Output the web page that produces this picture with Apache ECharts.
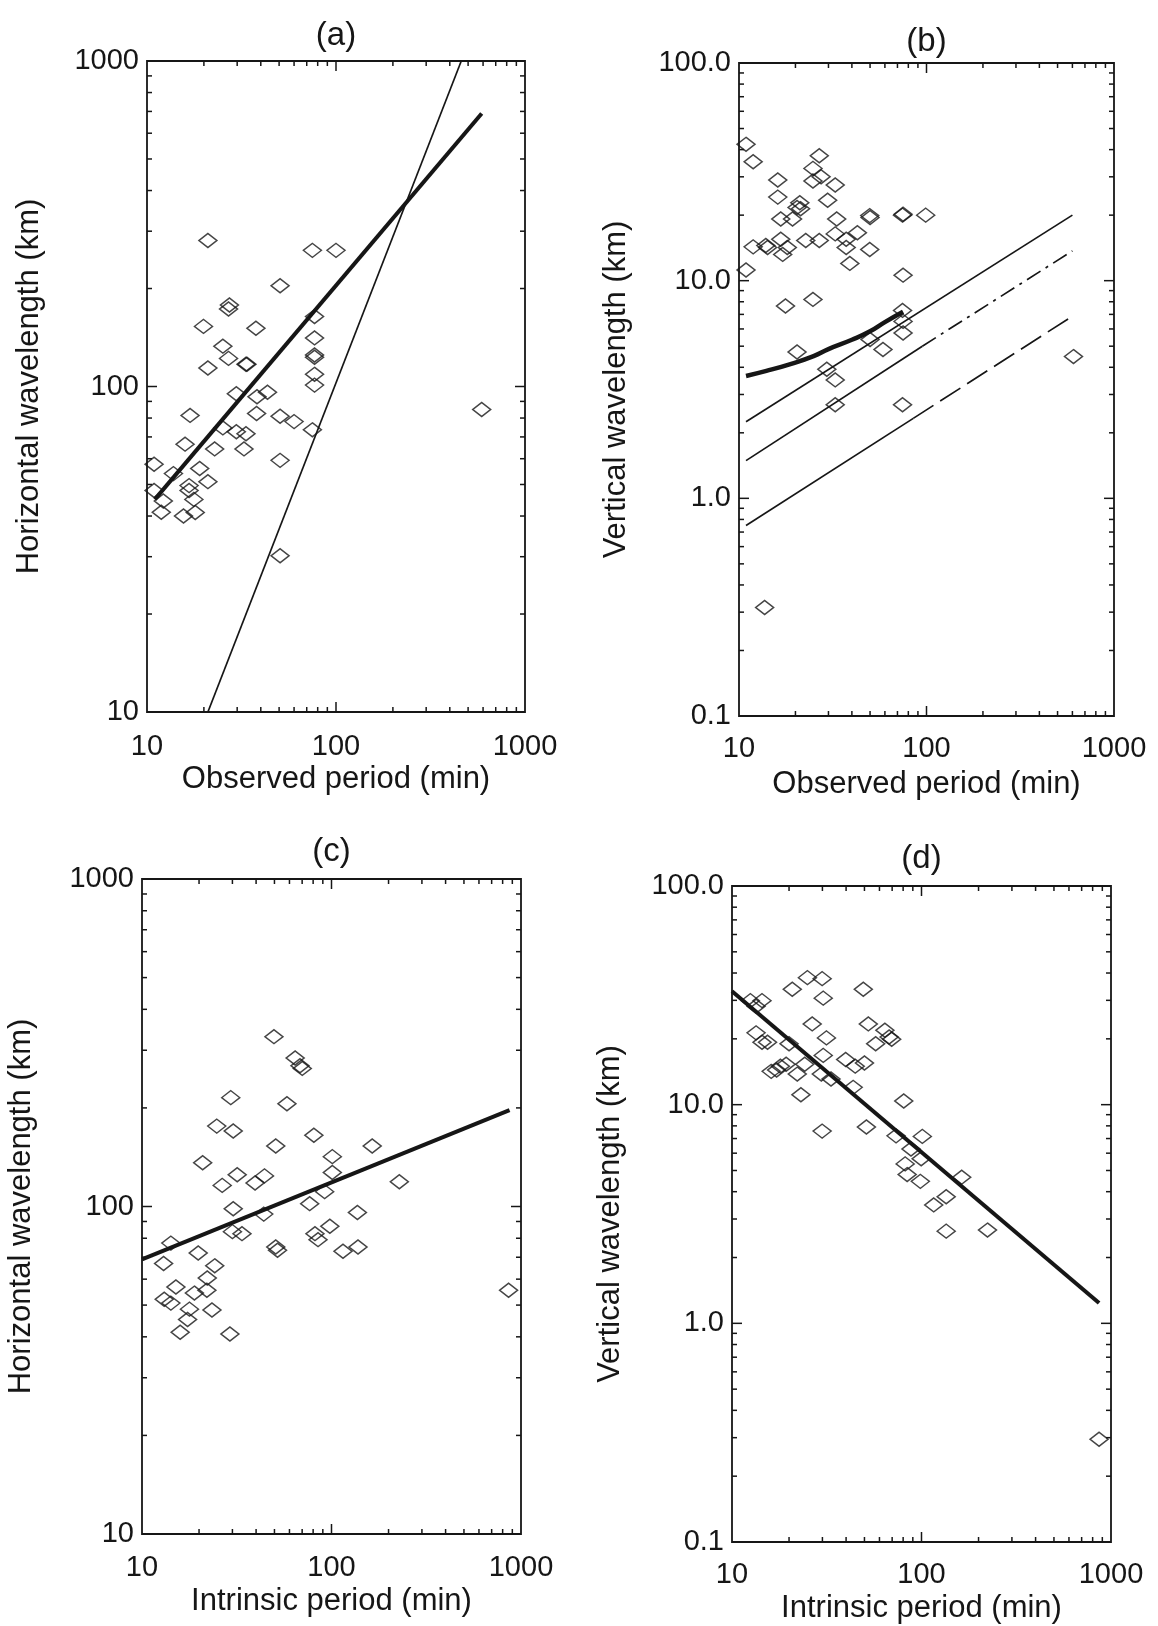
<!DOCTYPE html>
<html><head><meta charset="utf-8">
<script src="https://cdn.jsdelivr.net/npm/echarts@6/dist/echarts.min.js"></script>
<style>html,body{margin:0;padding:0;background:#fff}#c{width:1158px;height:1626px}</style>
</head><body><div id="c"></div><script>
// ---------------- data ----------------
// panel (a): observed period (min) vs horizontal wavelength (km)
const periodA = [21,75,100,50.6,27,27.3,19.9,37.7,77,77,77,77,77,77,25.2,27,21,33.4,33.8,29.7,38.2,43.4,16.9,38,50.6,60,75,25.2,29.7,33.4,32.6,22.8,15.9,13.8,19,50.6,10.9,10.9,16.7,16.7,21,12.2,11.9,17.7,18,15.6,50.6,590];
const horizA  = [281,262,262,204,173,178,153,151,164,141,125,123,109,101,133,122,114,117,117,95,93,96,81.5,82.6,81,78,73.6,74.6,72.6,71.6,64.3,64.3,66.5,54,56,59.3,57.7,47.9,49.6,47.9,51,44.5,41.1,45,41,40,30.2,85];
const fitA_x   = [11, 590];
const fitA_y   = [45, 690];
const steepA_x = [21, 460];
const steepA_y = [10, 1000];

// panel (b): observed period (min) vs vertical wavelength (km)
const periodB = [10.9,11.9,10.9,11.9,13.9,14.2,16.1,16.1,16.7,16.7,17.1,18.1,19.3,20.4,21.1,21.3,22.7,24.8,24.8,26.8,27.4,26.8,29.7,32.6,33.2,32.6,37.3,37.3,39,42.8,49.8,50,49.8,74.5,75,99,75,17.7,24.8,74.5,75,75,50,58.6,20.4,29.4,32.6,32.6,74.5,608,13.7];
const vertB   = [42.3,35.2,11.2,14.3,14.5,14.2,29,24.2,19.2,15.5,13.2,14.2,19.2,21.7,22.8,21.4,15.3,32.8,28.7,37.5,30,15.3,23.4,27.5,19.2,16.4,15.5,14.2,12,16.6,19.9,19.5,13.9,20,20.2,20,10.6,7.65,8.2,7.3,6.5,5.75,5.37,4.83,4.7,3.92,3.5,2.69,2.69,4.48,0.315];
const curveB_x = [10.9,14,19,25,30,40,50,60,75];
const curveB_y = [3.65,3.85,4.15,4.5,4.85,5.35,5.85,6.45,7.2];
const lineB1_x = [10.9, 600];
const lineB1_y = [2.25, 20];
const lineB2s_x = [10.9, 95];   // solid part
const lineB2s_y = [1.49, 5.0];
const lineB2d_x = [95, 600];    // dash-dot part
const lineB2d_y = [5.0, 13.7];
const lineB3s_x = [10.9, 85];   // solid part
const lineB3s_y = [0.75, 2.33];
const lineB3d_x = [85, 600];    // dashed part
const lineB3d_y = [2.33, 6.87];

// panel (c): intrinsic period (min) vs horizontal wavelength (km)
const periodC = [49.7,64.3,68.2,70.1,29.4,58.2,24.8,30.3,80.7,50.8,164,20.9,101,101,31.8,44.3,39.5,26.5,228,92,30.3,43.9,76.7,137,98,30,33.7,81.8,84.9,14.2,50.8,51.9,138,115,19.8,13,24.2,22.1,15.1,22,18.9,13.1,14.2,17.8,23.4,17.4,15.9,29.1,860];
const horizC  = [330,284,269,264,215,206,176,170,165,153,153,136,142,127,125,124,118,116,119,111,98.4,94.8,102,95.9,87,83.8,82.6,82.6,79.2,77.3,75.2,73.5,75.2,73,72.1,67,65.9,60.5,56.8,55.5,54.4,52.1,50.7,48.6,48.3,45.2,41.3,40.8,55.5];
const fitC_x = [10, 870];
const fitC_y = [69, 197];

// panel (d): intrinsic period (min) vs vertical wavelength (km)
const periodD = [25,29.9,20.8,49.3,30.3,12.5,14.4,13.4,52.4,26.5,64.1,13.4,67.5,69.6,31.5,14.4,15.4,20,57.3,30.3,39.8,44.7,50,24.2,18,19.3,16.1,17.2,29.6,22.1,33.3,43.6,23.1,80.6,29.9,51.2,73.4,101,88,99.6,82,84,98.6,163,135,116,135,223,865];
const vertD   = [38.1,37.7,33.7,33.7,30.7,29.9,29.9,28.2,23.4,23.4,21.9,21.3,20.4,19.9,20.2,19.3,19.3,19,19,16.8,16.1,15,15.5,15.3,15,15.3,14.2,14.4,13.8,13.8,13.1,12,11.1,10.4,7.57,7.9,7.2,7.16,6.27,5.66,5.36,4.79,4.46,4.66,3.79,3.48,2.64,2.67,0.295];
const fitD_x = [10, 865];
const fitD_y = [33, 1.24];

// axes / ticks
const titles = ['(a)', '(b)', '(c)', '(d)'];
const xNames = ['Observed period (min)', 'Observed period (min)', 'Intrinsic period (min)', 'Intrinsic period (min)'];
const yNames = ['Horizontal wavelength (km)', 'Vertical wavelength (km)', 'Horizontal wavelength (km)', 'Vertical wavelength (km)'];
const xTickValues = [10, 100, 1000];
const xTickLabels = ['10', '100', '1000'];
const yTickValuesH = [10, 100, 1000];
const yTickLabelsH = ['10', '100', '1000'];
const yTickValuesV = [0.1, 1, 10, 100];
const yTickLabelsV = ['0.1', '1.0', '10.0', '100.0'];
const minorTicksH = [20,30,40,50,60,70,80,90,200,300,400,500,600,700,800,900];
const majorTicksH = [100];
const minorTicksV = [0.2,0.3,0.4,0.5,0.6,0.7,0.8,0.9,2,3,4,5,6,7,8,9,20,30,40,50,60,70,80,90];
const majorTicksV = [1, 10];

// ---------------- chart ----------------
const FONT = '"Liberation Sans", Arial, Helvetica, sans-serif';
const INK = '#161616';
const zip = (a, b) => a.map((v, i) => [v, b[i]]);
function labelFor(values, labels) {
  return function (v) {
    let best = 0, bd = Infinity;
    values.forEach((t, i) => { const d = Math.abs(Math.log10(v) - Math.log10(t)); if (d < bd) { bd = d; best = i; } });
    return labels[best];
  };
}

const grids = [
  { left: 147, top: 61, width: 378, height: 651 },
  { left: 739, top: 63, width: 375, height: 653 },
  { left: 142, top: 879, width: 379, height: 655 },
  { left: 732, top: 886, width: 379, height: 656 }
];
const yRanges = [[10, 1000], [0.1, 100], [10, 1000], [0.1, 100]];
const xLabelMargins = [20, 18, 19, 18];
const xNameGaps = [52, 53, 52, 51];
const yNameGaps = [102, 107, 105, 106];

const MIN_L = 5, MAJ_L = 10;
function tickSeries(gi, xr, yr, xMin, xMaj, yMin, yMaj) {
  const data = [];
  xMin.forEach(v => data.push([v, yr[0], 0]));
  xMaj.forEach(v => data.push([v, yr[0], 1]));
  yMin.forEach(v => data.push([xr[0], v, 2]));
  yMaj.forEach(v => data.push([xr[0], v, 3]));
  return {
    type: 'custom', xAxisIndex: gi, yAxisIndex: gi, silent: true, clip: false, z: 5,
    encode: { x: 0, y: 1 }, data: data, animation: false,
    renderItem: function (params, api) {
      const kind = api.value(2);
      const st = () => ({ stroke: INK, lineWidth: 1.5 });
      if (kind < 2) {
        const v = api.value(0);
        const b = api.coord([v, yr[0]]), t = api.coord([v, yr[1]]);
        const L = kind === 1 ? MAJ_L : MIN_L;
        return { type: 'group', children: [
          { type: 'line', shape: { x1: b[0], y1: b[1], x2: b[0], y2: b[1] - L }, style: st() },
          { type: 'line', shape: { x1: t[0], y1: t[1], x2: t[0], y2: t[1] + L }, style: st() }
        ] };
      } else {
        const v = api.value(1);
        const l = api.coord([xr[0], v]), r = api.coord([xr[1], v]);
        const L = kind === 3 ? MAJ_L : MIN_L;
        return { type: 'group', children: [
          { type: 'line', shape: { x1: l[0], y1: l[1], x2: l[0] + L, y2: l[1] }, style: st() },
          { type: 'line', shape: { x1: r[0], y1: r[1], x2: r[0] - L, y2: r[1] }, style: st() }
        ] };
      }
    }
  };
}

const xAxes = grids.map((g, i) => ({
  type: 'log', logBase: 10, gridIndex: i, min: 10, max: 1000,
  axisLine: { show: false }, axisTick: { show: false }, splitLine: { show: false }, minorTick: { show: false },
  axisLabel: { show: true, margin: xLabelMargins[i], fontSize: 29, color: INK, fontFamily: FONT, showMinLabel: true, showMaxLabel: true, hideOverlap: false,
    formatter: labelFor(xTickValues, xTickLabels) },
  name: xNames[i], nameLocation: 'middle', nameGap: xNameGaps[i],
  nameTextStyle: { fontSize: 31, color: INK, fontFamily: FONT }
}));
const yAxes = grids.map((g, i) => {
  const isH = (i % 2 === 0);
  return {
    type: 'log', logBase: 10, gridIndex: i, min: yRanges[i][0], max: yRanges[i][1],
    axisLine: { show: false }, axisTick: { show: false }, splitLine: { show: false }, minorTick: { show: false },
    axisLabel: { show: true, margin: 8, fontSize: 29, color: INK, fontFamily: FONT, showMinLabel: true, showMaxLabel: true, hideOverlap: false,
      formatter: isH ? labelFor(yTickValuesH, yTickLabelsH) : labelFor(yTickValuesV, yTickLabelsV) },
    name: yNames[i], nameLocation: 'middle', nameGap: yNameGaps[i],
    nameTextStyle: { fontSize: 31, color: INK, fontFamily: FONT }
  };
});

const diamond = (gi, x, y) => ({
  type: 'scatter', xAxisIndex: gi, yAxisIndex: gi, data: zip(x, y), symbol: 'diamond', symbolSize: [18, 14], z: 4,
  itemStyle: { color: 'rgba(0,0,0,0)', borderColor: INK, borderWidth: 1.5 }, silent: true
});
const line = (gi, x, y, w, type, smooth) => ({
  type: 'line', xAxisIndex: gi, yAxisIndex: gi, data: zip(x, y), symbol: 'none', smooth: !!smooth, z: 3,
  lineStyle: { color: INK, width: w, type: type || 'solid' }, silent: true
});

const series = [
  diamond(0, periodA, horizA),
  line(0, fitA_x, fitA_y, 4),
  line(0, steepA_x, steepA_y, 1.7),
  diamond(1, periodB, vertB),
  line(1, curveB_x, curveB_y, 4.5, 'solid', 0.4),
  line(1, lineB1_x, lineB1_y, 1.7),
  line(1, lineB2s_x, lineB2s_y, 1.7),
  line(1, lineB2d_x, lineB2d_y, 1.7, [16, 6, 3, 6]),
  line(1, lineB3s_x, lineB3s_y, 1.7),
  line(1, lineB3d_x, lineB3d_y, 1.7, [24, 8]),
  diamond(2, periodC, horizC),
  line(2, fitC_x, fitC_y, 4),
  diamond(3, periodD, vertD),
  line(3, fitD_x, fitD_y, 4)
];
for (let i = 0; i < 4; i++) {
  const isH = (i % 2 === 0);
  series.push(tickSeries(i, [10, 1000], yRanges[i], minorTicksH, majorTicksH,
    isH ? minorTicksH : minorTicksV, isH ? majorTicksH : majorTicksV));
}

const titleCenters = [[336, 19], [926.5, 25], [331.5, 835], [921.5, 842]];
const chart = echarts.init(document.getElementById('c'), null, { renderer: 'canvas' });
chart.setOption({
  backgroundColor: '#ffffff',
  animation: false,
  title: titles.map((t, i) => ({ text: t, left: titleCenters[i][0], top: titleCenters[i][1], textAlign: 'center', padding: 0,
    textStyle: { fontSize: 33, fontWeight: 'normal', color: INK, fontFamily: FONT } })),
  grid: grids.map(g => Object.assign({ show: true, borderColor: INK, borderWidth: 1.8, backgroundColor: 'rgba(0,0,0,0)', containLabel: false }, g)),
  xAxis: xAxes,
  yAxis: yAxes,
  series: series
});
</script></body></html>
